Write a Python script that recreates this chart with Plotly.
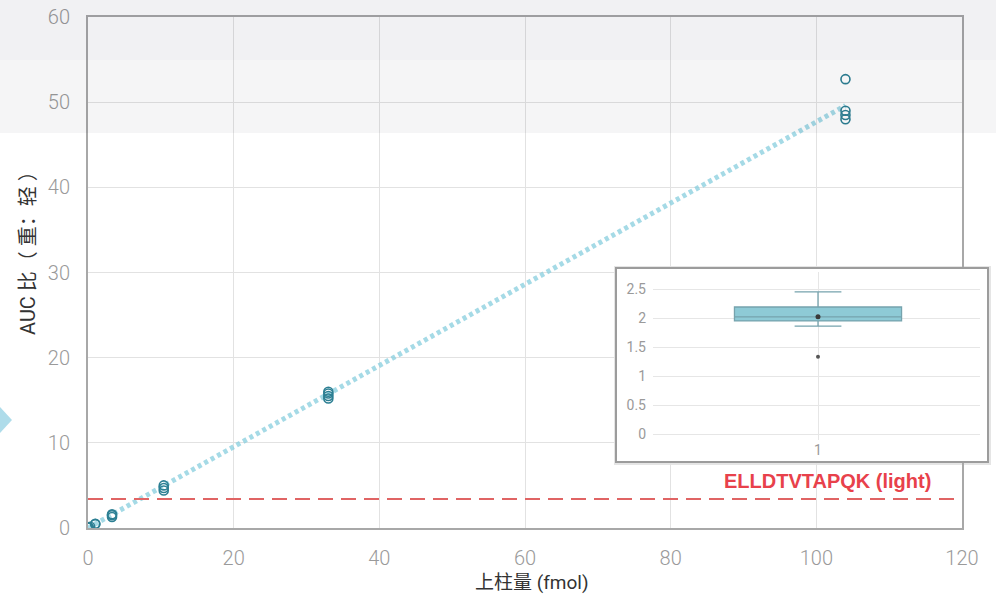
import plotly.graph_objects as go

# ---------------- data ----------------
amount_fmol = [0.1, 0.1, 0.3, 1.0, 1.0, 3.3, 3.3, 3.3, 10.4, 10.4, 10.4,
               33, 33, 33, 33, 104, 104, 104, 104]
auc_ratio = [0.03, 0.06, 0.15, 0.45, 0.5, 1.3, 1.5, 1.6, 4.4, 4.7, 5.0,
             15.2, 15.5, 15.8, 16.0, 52.7, 49.0, 48.5, 48.0]
fit_x = [0, 104]
fit_y = [0, 49.6]
lloq_y = 3.4

x_ticks = [0, 20, 40, 60, 80, 100, 120]
y_ticks = [0, 10, 20, 30, 40, 50, 60]

inset_x = [1]
inset_q1 = [1.95]
inset_median = [2.02]
inset_q3 = [2.19]
inset_lower = [1.86]
inset_upper = [2.45]
inset_mean = [2.02]
inset_outlier = [1.33]
inset_ticks = [0, 0.5, 1, 1.5, 2, 2.5]
inset_ticktext = ["0", "0.5", "1", "1.5", "2", "2.5"]

peptide_label = "ELLDTVTAPQK (light)"
x_title = "上柱量 (fmol)"
y_title = "AUC 比（ 重：轻 ）"

# ---------------- geometry (pixels) ----------------
W, H = 996, 597
ML, MR, MT, MB = 88, 8, 17, 69
PW = W - ML - MR
PH = H - MT - MB


def px(x):
    return (x - ML) / PW


def py(y):
    return (H - MB - y) / PH


FONT = "Roboto, 'Noto Sans CJK SC', sans-serif"

fig = go.Figure()

# fitted line (dotted)
fig.add_trace(go.Scatter(
    x=fit_x, y=fit_y, mode="lines",
    line=dict(color="rgba(135,205,222,0.75)", width=5, dash="4px,3.4px"),
    hoverinfo="skip", xaxis="x", yaxis="y"))

# measured points
fig.add_trace(go.Scatter(
    x=amount_fmol, y=auc_ratio, mode="markers",
    marker=dict(symbol="circle-open", size=9, color="#2c7f93",
                line=dict(width=1.6, color="#2c7f93")),
    xaxis="x", yaxis="y"))

# cover subplot (white panel of the inset)
fig.add_trace(go.Scatter(x=[None], y=[None], xaxis="x2", yaxis="y2",
                         mode="markers", hoverinfo="skip"))

# inset box plot
fig.add_trace(go.Box(
    x=inset_x, q1=inset_q1, median=inset_median, q3=inset_q3,
    lowerfence=inset_lower, upperfence=inset_upper,
    width=0.511, whiskerwidth=0.28,
    fillcolor="#8ecad6", line=dict(color="#76a3ad", width=1.3),
    xaxis="x3", yaxis="y3"))
fig.add_trace(go.Scatter(
    x=inset_x, y=inset_mean, mode="markers",
    marker=dict(size=5, color="#3a3a3a"), xaxis="x3", yaxis="y3"))
fig.add_trace(go.Scatter(
    x=inset_x * len(inset_outlier), y=inset_outlier, mode="markers",
    marker=dict(size=4, color="#555555"), xaxis="x3", yaxis="y3"))

tickfont = dict(family=FONT, size=20, color="#9a9a9a", weight=300)
titlefont = dict(family=FONT, size=19, color="#333333")

shapes = [
    # diamond artifact at the left edge
    dict(type="path", xref="paper", yref="paper",
         path=f"M {px(-12)} {py(420)} L {px(0)} {py(407)} L {px(12)} {py(420)} L {px(0)} {py(433)} Z",
         fillcolor="rgba(140,205,225,0.7)", line=dict(width=0), layer="below"),
    # inset shadow
    dict(type="rect", xref="paper", yref="paper",
         x0=px(614), x1=px(991), y0=py(465), y1=py(266),
         fillcolor="rgba(0,0,0,0.10)", line=dict(width=0), layer="below"),
    # inset frame
    dict(type="rect", xref="paper", yref="paper",
         x0=px(616), x1=px(988), y0=py(462), y1=py(268),
         fillcolor="rgba(0,0,0,0)", line=dict(color="#9c9c9c", width=2),
         layer="above"),
    # grey band at the top of the screenshot (translucent overlay)
    dict(type="rect", xref="paper", yref="paper",
         x0=px(0), x1=px(W), y0=py(133), y1=py(0),
         fillcolor="rgba(20,20,40,0.045)", line=dict(width=0), layer="above"),
    dict(type="rect", xref="paper", yref="paper",
         x0=px(0), x1=px(W), y0=py(60), y1=py(0),
         fillcolor="rgba(20,20,40,0.015)", line=dict(width=0), layer="above"),
]

fig.add_hline(y=lloq_y, line=dict(color="#e06464", width=2, dash="15px,8px"),
              layer="above")

annotations = [
    dict(text=peptide_label, xref="paper", yref="paper",
         x=px(827), y=py(481), xanchor="center", yanchor="middle",
         showarrow=False,
         font=dict(family="'Liberation Sans', Arial, sans-serif", size=20,
                   color="#e8414b", weight="bold")),
    dict(text=x_title, xref="paper", yref="paper",
         x=px(532), y=py(582), xanchor="center", yanchor="middle",
         showarrow=False, font=titlefont),
    dict(text=y_title, xref="paper", yref="paper", textangle=-90,
         x=px(28), y=py(248), xanchor="center", yanchor="middle",
         showarrow=False, font=dict(family=FONT, size=20, color="#333333")),
]

fig.update_layout(
    width=W, height=H,
    margin=dict(l=ML, r=MR, t=MT, b=MB),
    paper_bgcolor="white", plot_bgcolor="white",
    showlegend=False,
    shapes=list(fig.layout.shapes) + shapes,
    annotations=annotations,
    xaxis=dict(domain=[0, px(962)], range=[0, 120], tickvals=x_ticks,
               showgrid=True, gridcolor="#e2e2e2", gridwidth=1,
               zeroline=False, showline=True, linecolor="#a8a8a8",
               linewidth=2, mirror=True, ticks="", tickfont=tickfont,
               ticklabelstandoff=11, automargin=False),
    yaxis=dict(domain=[0, 1], range=[0, 60], tickvals=y_ticks,
               showgrid=True, gridcolor="#e2e2e2", gridwidth=1,
               zeroline=False, showline=True, linecolor="#a8a8a8",
               linewidth=2, mirror=True, ticks="", tickfont=tickfont,
               ticklabelstandoff=12, automargin=False),
    xaxis2=dict(domain=[px(616), px(988)], anchor="y2", range=[0, 1],
                showgrid=False, zeroline=False, showticklabels=False,
                showline=False),
    yaxis2=dict(domain=[py(462), py(268)], anchor="x2", range=[0, 1],
                showgrid=False, zeroline=False, showticklabels=False,
                showline=False),
    xaxis3=dict(domain=[px(653), px(980)], anchor="y3",
                range=[1 - 0.5046, 1 + 0.4954], tickvals=inset_x,
                ticktext=["1"], showgrid=True, gridcolor="#e6e6e6",
                zeroline=False, showline=False, ticks="",
                tickfont=dict(family=FONT, size=14, color="#9a9a9a"),
                ticklabelstandoff=0),
    yaxis3=dict(domain=[py(440), py(272)], anchor="x3",
                range=[-0.103, 2.793], tickvals=inset_ticks,
                ticktext=inset_ticktext, showgrid=True, gridcolor="#e6e6e6",
                zeroline=False, showline=False, ticks="",
                tickfont=dict(family=FONT, size=14, color="#9a9a9a"),
                ticklabelstandoff=6),
)

fig.write_html(
    "out.html",
    config={"displayModeBar": False},
    post_script="document.body.style.margin='0px';document.body.style.overflow='hidden';",
)
